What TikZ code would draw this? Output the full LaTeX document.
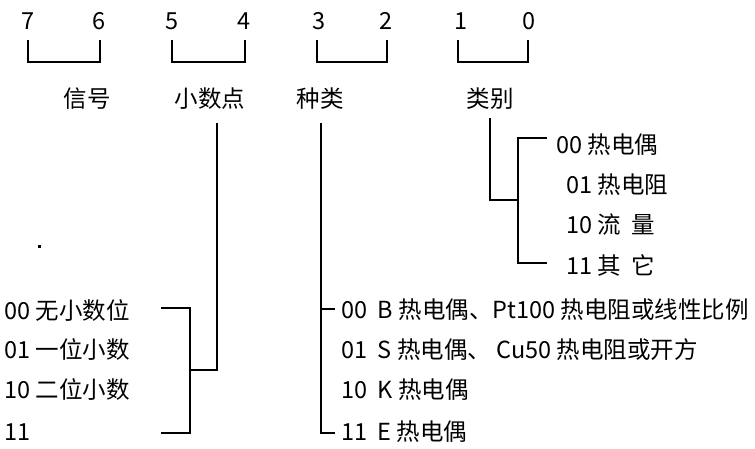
\documentclass[tikz,border=0pt]{standalone}
\usepackage{fontspec}
\setmainfont{Noto Sans CJK SC}
\begin{document}
\begin{tikzpicture}[x=1pt,y=-1pt,
  lbl/.style={font=\fontsize{23.5}{27}\selectfont, inner sep=0pt},
  item/.style={lbl, anchor=west},
  wire/.style={line width=2.6pt, line cap=butt, line join=miter}]
\useasboundingbox (0,0) rectangle (755,448);
% bit numbers
\node[lbl] (d7) at (28,21) {7};
\node[lbl] (d6) at (99,21) {6};
\node[lbl] (d5) at (172,21) {5};
\node[lbl] (d4) at (244,21) {4};
\node[lbl] (d3) at (319,21) {3};
\node[lbl] (d2) at (386,21) {2};
\node[lbl] (d1) at (461,21) {1};
\node[lbl] (d0) at (529,21) {0};
% brackets
\coordinate (b7) at (28,40); \coordinate (b6) at (100,40);
\coordinate (b5) at (172,40); \coordinate (b4) at (245,40);
\coordinate (b3) at (317,40); \coordinate (b2) at (387,40);
\coordinate (b1) at (458,40); \coordinate (b0) at (528,40);
\draw[wire] (b7) -- ++(0,22) -| (b6);
\draw[wire] (b5) -- ++(0,22) -| (b4);
\draw[wire] (b3) -- ++(0,22) -| (b2);
\draw[wire] (b1) -- ++(0,22) -| (b0);
% field names
\node[lbl] (sig) at (87,99) {信号};
\node[lbl] (dec) at (210,99) {小数点};
\node[lbl] (typ) at (320,99) {种类};
\node[lbl] (cls) at (490,99) {类别};
% class items
\node[item] (c0) at (556,145) {00 热电偶};
\node[item] (c1) at (566,185) {01 热电阻};
\node[item] (c2) at (566,225) {10 流\ \ 量};
\node[item] (c3) at (566,265) {11 其\ \ 它};
\coordinate (cA) at (490,118);
\coordinate (cJ) at (490,200);
\coordinate (cK) at (518,200);
\coordinate (cT) at (518,138);
\coordinate (cB) at (518,263);
\coordinate (cTe) at (547,138);
\coordinate (cBe) at (547,263);
\draw[wire] (cA) -- (cJ) -- (cK);
\draw[wire] (cTe) -- (cT) -- (cB) -- (cBe);
% decimal items
\node[item] (p0) at (4,311) {00 无小数位};
\node[item] (p1) at (4,350) {01 一位小数};
\node[item] (p2) at (4,390) {10 二位小数};
\node[item] (p3) at (4,432) {11};
\coordinate (pA) at (217,123);
\coordinate (pJ) at (217,370);
\coordinate (pK) at (190,370);
\coordinate (pT) at (190,308);
\coordinate (pB) at (190,433);
\coordinate (pTe) at (161,308);
\coordinate (pBe) at (161,433);
\draw[wire] (pA) -- (pJ) -- (pK);
\draw[wire] (pTe) -- (pT) -- (pB) -- (pBe);
% type items
\node[item] (t0) at (341,310) {00\ \ B 热电偶、Pt100 热电阻或线性比例};
\node[item] (t1) at (341,350) {01\ \ S 热电偶、\ Cu50 热电阻或开方};
\node[item] (t2) at (341,390) {10\ \ K 热电偶};
\node[item] (t3) at (341,432) {11\ \ E 热电偶};
\coordinate (tA) at (321,123);
\coordinate (tB) at (321,433);
\coordinate (tBe) at (335,433);
\coordinate (tM) at (321,309);
\coordinate (tMe) at (335,309);
\draw[wire] (tA) -- (tB) -- (tBe);
\draw[wire] (tM) -- (tMe);
% stray dot
\fill (38,245) rectangle (40.5,247.5);
\end{tikzpicture}
\end{document}
